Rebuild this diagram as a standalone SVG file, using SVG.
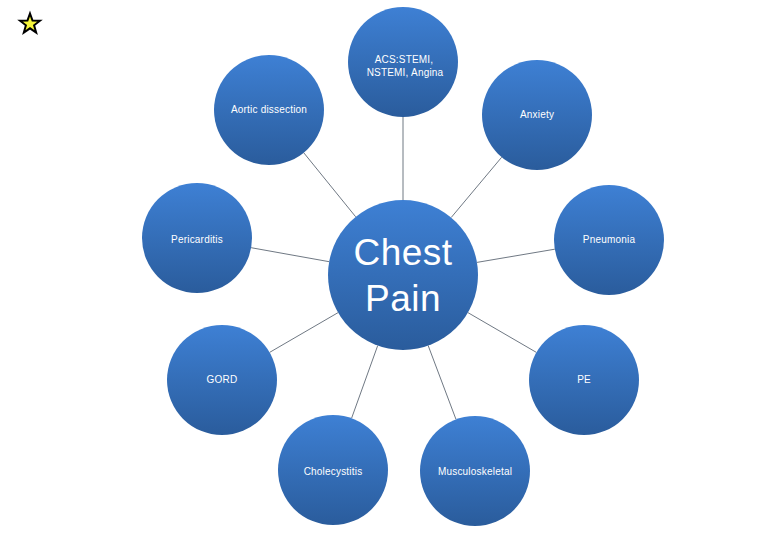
<svg xmlns="http://www.w3.org/2000/svg" width="780" height="540" viewBox="0 0 780 540">
<defs>
<linearGradient id="g" x1="0" y1="0" x2="0" y2="1">
<stop offset="0" stop-color="#3e80d4"/>
<stop offset="1" stop-color="#2a5c9c"/>
</linearGradient>
</defs>
<style>
.n{fill:url(#g);}
.t{fill:#ffffff;font-family:"Liberation Sans",Arial,sans-serif;font-size:10px;text-anchor:middle;letter-spacing:0.2px;}
.big{font-size:37px;letter-spacing:0.5px;}
.c line{stroke:#4a5563;stroke-width:0.8;}
</style>
<rect width="780" height="540" fill="#ffffff"/>
<polygon points="30,13.5 32.53,20.52 39.99,20.76 34.09,25.33 36.17,32.49 30,28.3 23.83,32.49 25.91,25.33 20.01,20.76 27.47,20.52" fill="#f5f53a" stroke="#000000" stroke-width="2" stroke-linejoin="miter"/>
<g class="c" id="connectors">
<line x1="403" y1="117" x2="403" y2="200"/>
<line x1="303.7" y1="152.7" x2="355.7" y2="216.8"/>
<line x1="501.7" y1="157.2" x2="451.2" y2="217.5"/>
<line x1="251.1" y1="247.7" x2="329.2" y2="261.7"/>
<line x1="554.8" y1="249.2" x2="476.9" y2="262.4"/>
<line x1="269.6" y1="352.4" x2="338.1" y2="312.6"/>
<line x1="536.4" y1="352.4" x2="467.9" y2="312.6"/>
<line x1="351.6" y1="418.2" x2="377.7" y2="345.6"/>
<line x1="456" y1="419.4" x2="428.1" y2="345.4"/>
</g>
<g id="center"><circle class="n" cx="403" cy="275" r="75"/><text class="t big" x="403" y="265">Chest</text><text class="t big" x="403" y="311">Pain</text></g>
<g id="acs"><circle class="n" cx="403" cy="62" r="55"/><text class="t" x="404" y="63">ACS:STEMI,</text><text class="t" x="405" y="76">NSTEMI, Angina</text></g>
<g id="aortic"><circle class="n" cx="269" cy="110" r="55"/><text class="t" x="269" y="113">Aortic dissection</text></g>
<g id="anxiety"><circle class="n" cx="537" cy="115" r="55"/><text class="t" x="537" y="118">Anxiety</text></g>
<g id="pericarditis"><circle class="n" cx="197" cy="238" r="55"/><text class="t" x="197" y="243">Pericarditis</text></g>
<g id="pneumonia"><circle class="n" cx="609" cy="240" r="55"/><text class="t" x="609" y="243">Pneumonia</text></g>
<g id="gord"><circle class="n" cx="222" cy="380" r="55"/><text class="t" x="222" y="383">GORD</text></g>
<g id="pe"><circle class="n" cx="584" cy="380" r="55"/><text class="t" x="584" y="383">PE</text></g>
<g id="cholecystitis"><circle class="n" cx="333" cy="470" r="55"/><text class="t" x="333" y="475">Cholecystitis</text></g>
<g id="musculoskeletal"><circle class="n" cx="475" cy="471" r="55"/><text class="t" x="475" y="475">Musculoskeletal</text></g>
</svg>
